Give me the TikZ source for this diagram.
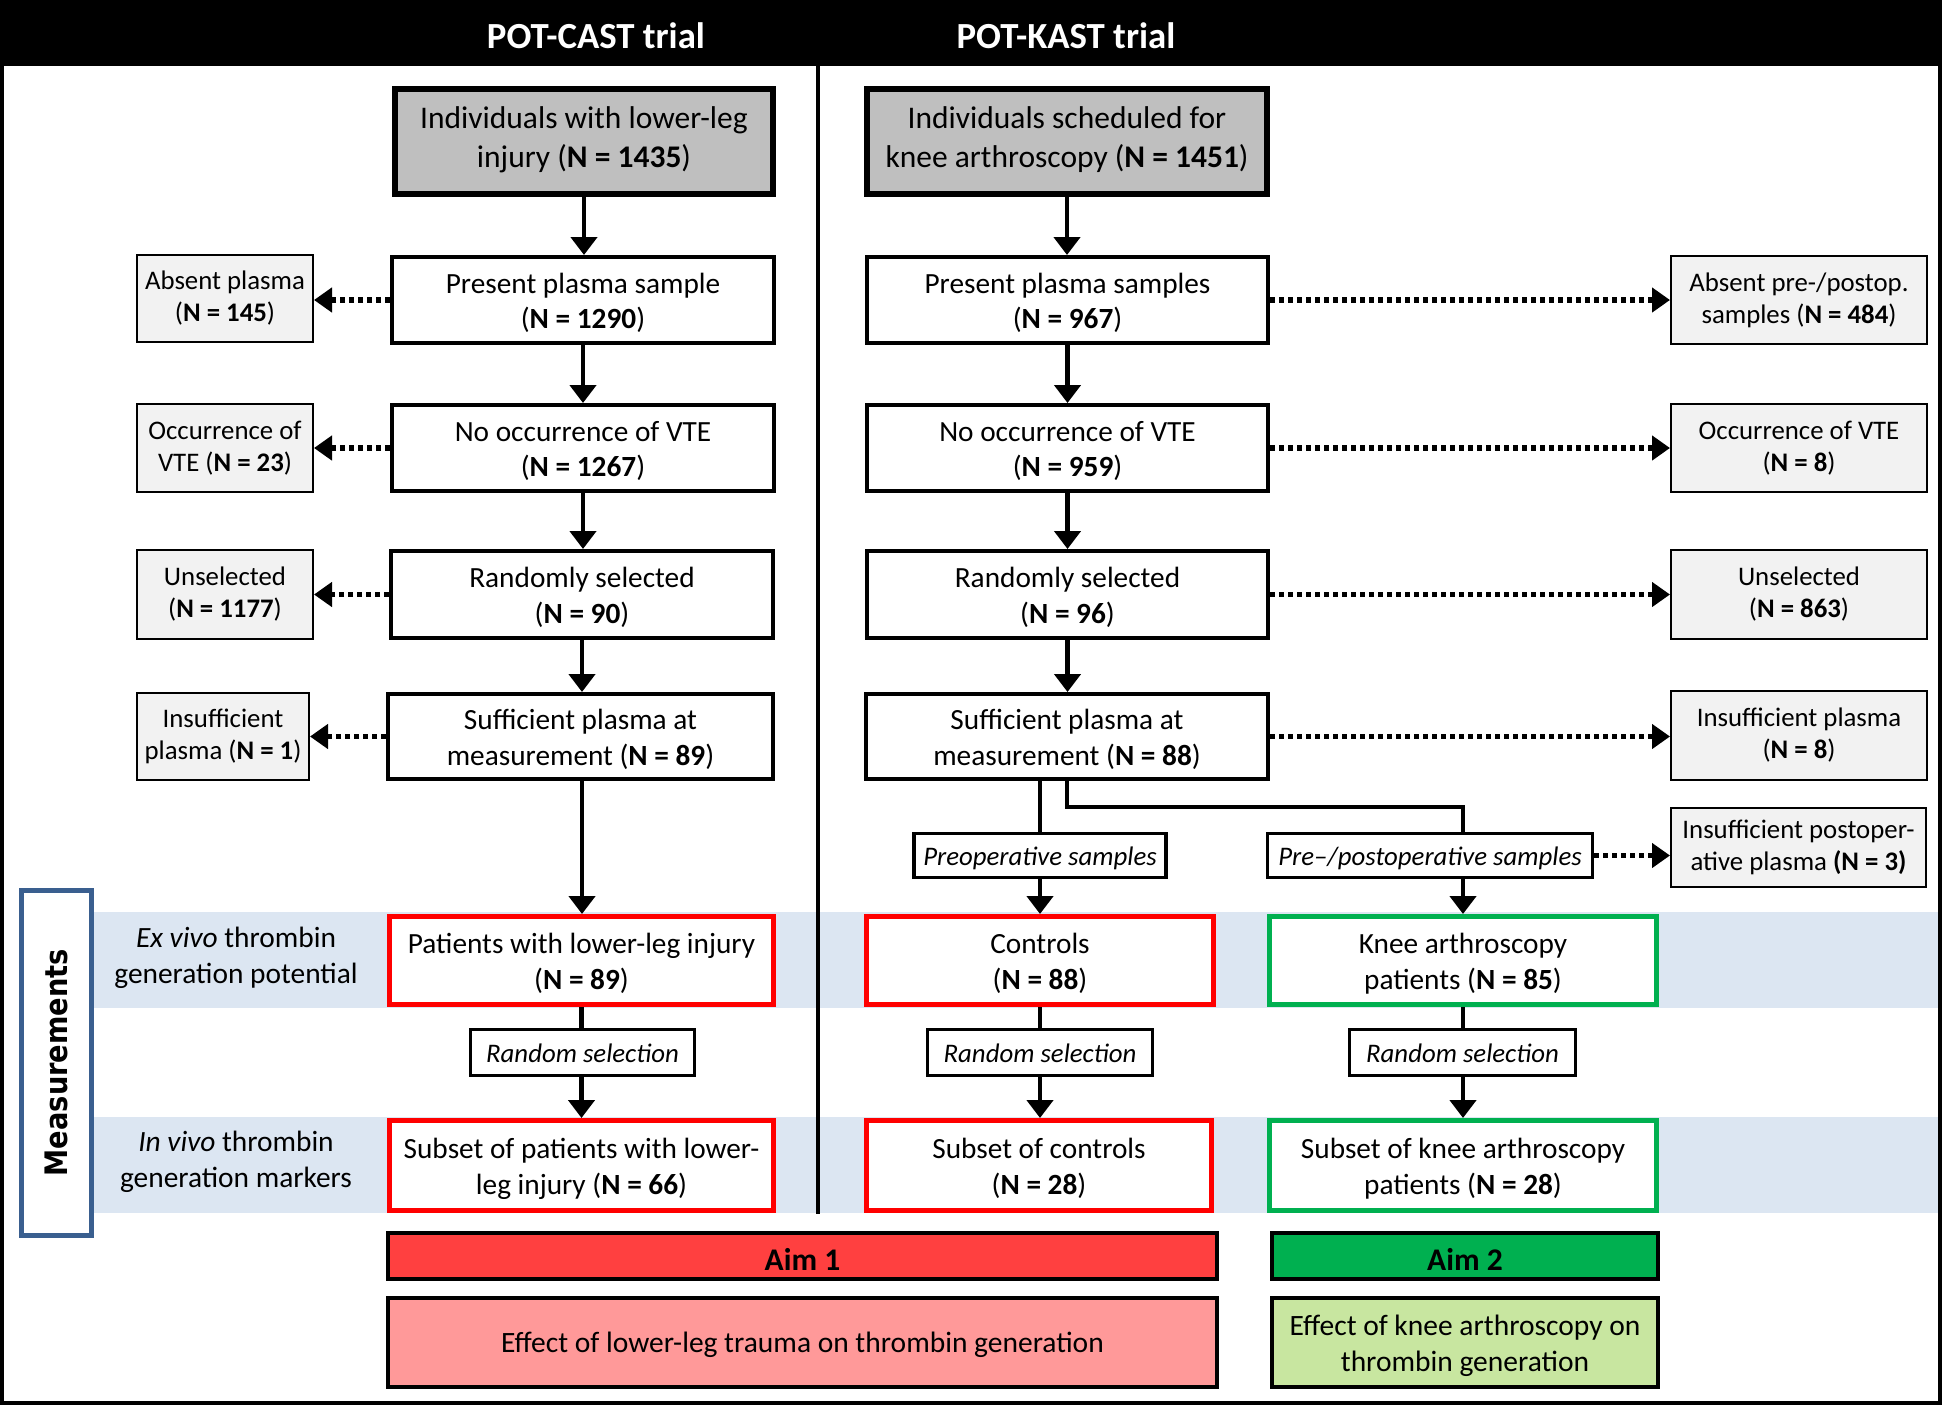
\documentclass[tikz,border=0pt]{standalone}
\usepackage{fontspec}
\setmainfont{Carlito}
\newfontfamily\msfont{DejaVu Sans}[FakeStretch=0.88]
\usetikzlibrary{arrows.meta}
\definecolor{topgray}{HTML}{BFBFBF}
\definecolor{sidegray}{HTML}{F2F2F2}
\definecolor{bandblue}{HTML}{DCE6F2}
\definecolor{msblue}{HTML}{3A5F8F}
\definecolor{boxred}{HTML}{FF0000}
\definecolor{boxgreen}{HTML}{00B050}
\definecolor{aimred}{HTML}{FF4040}
\definecolor{aimgreen}{HTML}{00B050}
\definecolor{effred}{HTML}{FF9999}
\definecolor{effgreen}{HTML}{C8E6A0}
\tikzset{
  mainbox/.style={draw, line width=4pt, fill=white, align=center, inner sep=0pt,
    font=\fontsize{29.3}{35.5}\selectfont, text height=62.5pt, text depth=5.5pt},
  topbox/.style={mainbox, line width=6pt, fill=topgray,
    font=\fontsize{31.5}{39.5}\selectfont, text height=59.5pt, text depth=7.5pt},
  sidebox/.style={draw, line width=2pt, fill=sidegray, align=center, inner sep=0pt,
    font=\fontsize{26.8}{32}\selectfont},
  lblbox/.style={draw, line width=3.5pt, fill=white, align=center, inner sep=0pt,
    font=\fontsize{26.8}{32}\selectfont\itshape, text height=22pt, text depth=1.2pt},
  redbox/.style={mainbox, draw=boxred, line width=5pt},
  greenbox/.style={mainbox, draw=boxgreen, line width=5pt},
  aimbox/.style={draw, line width=4.5pt, align=center, inner sep=0pt,
    font=\fontsize{31.5}{38}\selectfont\bfseries, text height=30pt, text depth=1.5pt},
  effbox/.style={draw, line width=4.5pt, align=center, inner sep=0pt,
    font=\fontsize{29.5}{35.5}\selectfont, text height=62.5pt, text depth=5.5pt},
  rowlabel/.style={align=center, inner sep=0pt, font=\fontsize{29.4}{36}\selectfont},
  arr/.style={line width=4.5pt, -{Triangle[length=18pt,width=26pt]}},
  plainline/.style={line width=4.5pt},
  dotarr/.style={line width=5.5pt, dash pattern=on 5pt off 4pt, -{Triangle[length=18pt,width=24pt]}},
}
\begin{document}
\begin{tikzpicture}[x=1pt,y=-1pt]
\useasboundingbox (0,0) rectangle (1944,1406);
\fill[white] (0,0) rectangle (1944,1406);
% bands
\fill[bandblue] (94,912) rectangle (1940,1008);
\fill[bandblue] (94,1117) rectangle (1940,1213);
% header
\fill[black] (0,0) rectangle (1942,66);
\node[text=white, font=\fontsize{36.8}{42}\selectfont\bfseries] (t1) at (596,36) {POT-CAST trial};
\node[text=white, font=\fontsize{36.8}{42}\selectfont\bfseries] (t2) at (1066,36) {POT-KAST trial};
% outer frame
\draw[line width=4pt] (2,2) rectangle (1940,1403);
% divider
\draw[line width=4.5pt] (818,66) -- (818,1214);

% left column
\node[topbox, minimum width=378pt, minimum height=105pt] (L0) at (584,141.5) {Individuals with lower-leg\\injury (\textbf{N = 1435})};
\node[mainbox, minimum width=382pt, minimum height=86pt] (L1) at (583,300) {Present plasma sample\\(\textbf{N = 1290})};
\node[mainbox, minimum width=382pt, minimum height=86pt] (L2) at (583,448) {No occurrence of VTE\\(\textbf{N = 1267})};
\node[mainbox, minimum width=382pt, minimum height=87pt] (L3) at (582,594.5) {Randomly selected\\(\textbf{N = 90})};
\node[mainbox, minimum width=385pt, minimum height=85pt] (L4) at (580.5,736.5) {Sufficient plasma at\\measurement (\textbf{N = 89})};

\node[sidebox, minimum width=176pt, minimum height=87pt] (SL1) at (225,298.5) {Absent plasma\\(\textbf{N = 145})};
\node[sidebox, minimum width=176pt, minimum height=88pt] (SL2) at (225,448) {Occurrence of\\VTE (\textbf{N = 23})};
\node[sidebox, minimum width=176pt, minimum height=89pt] (SL3) at (225,594.5) {Unselected\\(\textbf{N = 1177})};
\node[sidebox, minimum width=172pt, minimum height=87pt] (SL4) at (223,736.5) {Insufficient\\plasma (\textbf{N = 1})};

% right column
\node[topbox, minimum width=400pt, minimum height=105pt] (R0) at (1067,141.5) {Individuals scheduled for\\knee arthroscopy (\textbf{N = 1451})};
\node[mainbox, minimum width=401pt, minimum height=86pt] (R1) at (1067.5,300) {Present plasma samples\\(\textbf{N = 967})};
\node[mainbox, minimum width=401pt, minimum height=86pt] (R2) at (1067.5,448) {No occurrence of VTE\\(\textbf{N = 959})};
\node[mainbox, minimum width=401pt, minimum height=87pt] (R3) at (1067.5,594.5) {Randomly selected\\(\textbf{N = 96})};
\node[mainbox, minimum width=402pt, minimum height=85pt] (R4) at (1067,736.5) {Sufficient plasma at\\measurement (\textbf{N = 88})};

\node[sidebox, minimum width=256pt, minimum height=88pt] (SR1) at (1799,300) {Absent pre-/postop.\\samples (\textbf{N = 484})};
\node[sidebox, minimum width=256pt, minimum height=88pt] (SR2) at (1799,448) {Occurrence of VTE\\(\textbf{N = 8})};
\node[sidebox, minimum width=256pt, minimum height=89pt] (SR3) at (1799,594.5) {Unselected\\(\textbf{N = 863})};
\node[sidebox, minimum width=256pt, minimum height=89pt] (SR4) at (1799,735.5) {Insufficient plasma\\(\textbf{N = 8})};
\node[sidebox, minimum width=255pt, minimum height=79pt] (SR5) at (1798.5,847.5) {Insufficient postoper-\\ative plasma \textbf{(N = 3)}};

\node[lblbox, minimum width=252pt, minimum height=44pt] (Pre) at (1040,855.5) {Preoperative samples};
\node[lblbox, minimum width=325pt, minimum height=44pt] (PP) at (1430,855.5) {Pre--/postoperative samples};
\coordinate (bj) at (1463,807);

% measurement boxes
\node[redbox, minimum width=384pt, minimum height=88pt] (M1) at (581.5,960.5) {Patients with lower-leg injury\\(\textbf{N = 89})};
\node[redbox, minimum width=347pt, minimum height=88pt] (M2) at (1040,960.5) {Controls\\(\textbf{N = 88})};
\node[greenbox, minimum width=387pt, minimum height=88pt] (M3) at (1463,960.5) {Knee arthroscopy\\patients (\textbf{N = 85})};

\node[lblbox, minimum width=224pt, minimum height=46pt] (RS1) at (582.5,1052.5) {Random selection};
\node[lblbox, minimum width=225pt, minimum height=46pt] (RS2) at (1040,1052.5) {Random selection};
\node[lblbox, minimum width=226pt, minimum height=46pt] (RS3) at (1462.5,1052.5) {Random selection};

\node[redbox, minimum width=384pt, minimum height=90pt] (S1) at (581.5,1165.5) {Subset of patients with lower-\\leg injury (\textbf{N = 66})};
\node[redbox, minimum width=345pt, minimum height=90pt] (S2) at (1039,1165.5) {Subset of controls\\(\textbf{N = 28})};
\node[greenbox, minimum width=387pt, minimum height=90pt] (S3) at (1463,1165.5) {Subset of knee arthroscopy\\patients (\textbf{N = 28})};

% aims
\node[aimbox, fill=aimred, minimum width=829pt, minimum height=46pt] (A1) at (802.5,1256) {Aim 1};
\node[aimbox, fill=aimgreen, minimum width=386pt, minimum height=46pt] (A2) at (1465,1256) {Aim 2};
\node[effbox, fill=effred, minimum width=829pt, minimum height=89pt, text height=24pt, text depth=5pt] (E1) at (802.5,1342.5) {Effect of lower-leg trauma on thrombin generation};
\node[effbox, fill=effgreen, minimum width=386pt, minimum height=89pt] (E2) at (1465,1342.5) {Effect of knee arthroscopy on\\thrombin generation};

% row labels
\node[rowlabel] (X1) at (236,958) {\textit{Ex vivo} thrombin\\generation potential};
\node[rowlabel] (X2) at (236,1162) {\textit{In vivo} thrombin\\generation markers};
\node[draw=msblue, line width=5pt, fill=white, minimum width=70pt, minimum height=345pt, inner sep=0pt] (MS) at (56,1062.5) {};
\node[rotate=90, font=\fontsize{31}{36}\msfont\bfseries] (MST) at (MS.center) {Measurements};

% solid arrows left
\draw[arr] (L0.south) -- (L0.south |- L1.north);
\draw[arr] (L1.south) -- (L1.south |- L2.north);
\draw[arr] (L2.south) -- (L2.south |- L3.north);
\draw[arr] (L3.south) -- (L3.south |- L4.north);
\draw[arr] (L3.south |- L4.south) -- (L3.south |- M1.north);
\draw[plainline] (M1.south) -- (M1.south |- RS1.north);
\draw[arr] (M1.south |- RS1.south) -- (M1.south |- S1.north);
% solid arrows right
\draw[arr] (R0.south) -- (R0.south |- R1.north);
\draw[arr] (R1.south) -- (R1.south |- R2.north);
\draw[arr] (R2.south) -- (R2.south |- R3.north);
\draw[arr] (R3.south) -- (R3.south |- R4.north);
\draw[plainline] (R4.south -| Pre.north) -- (Pre.north);
\draw[plainline] (R4.south) |- (bj) -- (bj |- PP.north);
\draw[arr] (Pre.south) -- (M2.north);
\draw[arr] (bj |- PP.south) -- (M3.north);
\draw[plainline] (M2.south) -- (M2.south |- RS2.north);
\draw[arr] (RS2.south) -- (RS2.south |- S2.north);
\draw[plainline] (M3.south) -- (M3.south |- RS3.north);
\draw[arr] (M3.south |- RS3.south) -- (M3.south |- S3.north);

% dotted arrows
\draw[dotarr] (L1.west) -- (SL1.east |- L1.west);
\draw[dotarr] (L2.west) -- (SL2.east |- L2.west);
\draw[dotarr] (L3.west) -- (SL3.east |- L3.west);
\draw[dotarr] (L4.west) -- (SL4.east |- L4.west);
\draw[dotarr] (R1.east) -- (SR1.west |- R1.east);
\draw[dotarr] (R2.east) -- (SR2.west |- R2.east);
\draw[dotarr] (R3.east) -- (SR3.west |- R3.east);
\draw[dotarr] (R4.east) -- (SR4.west |- R4.east);
\draw[dotarr] (PP.east) -- (SR5.west |- PP.east);
\end{tikzpicture}
\end{document}
